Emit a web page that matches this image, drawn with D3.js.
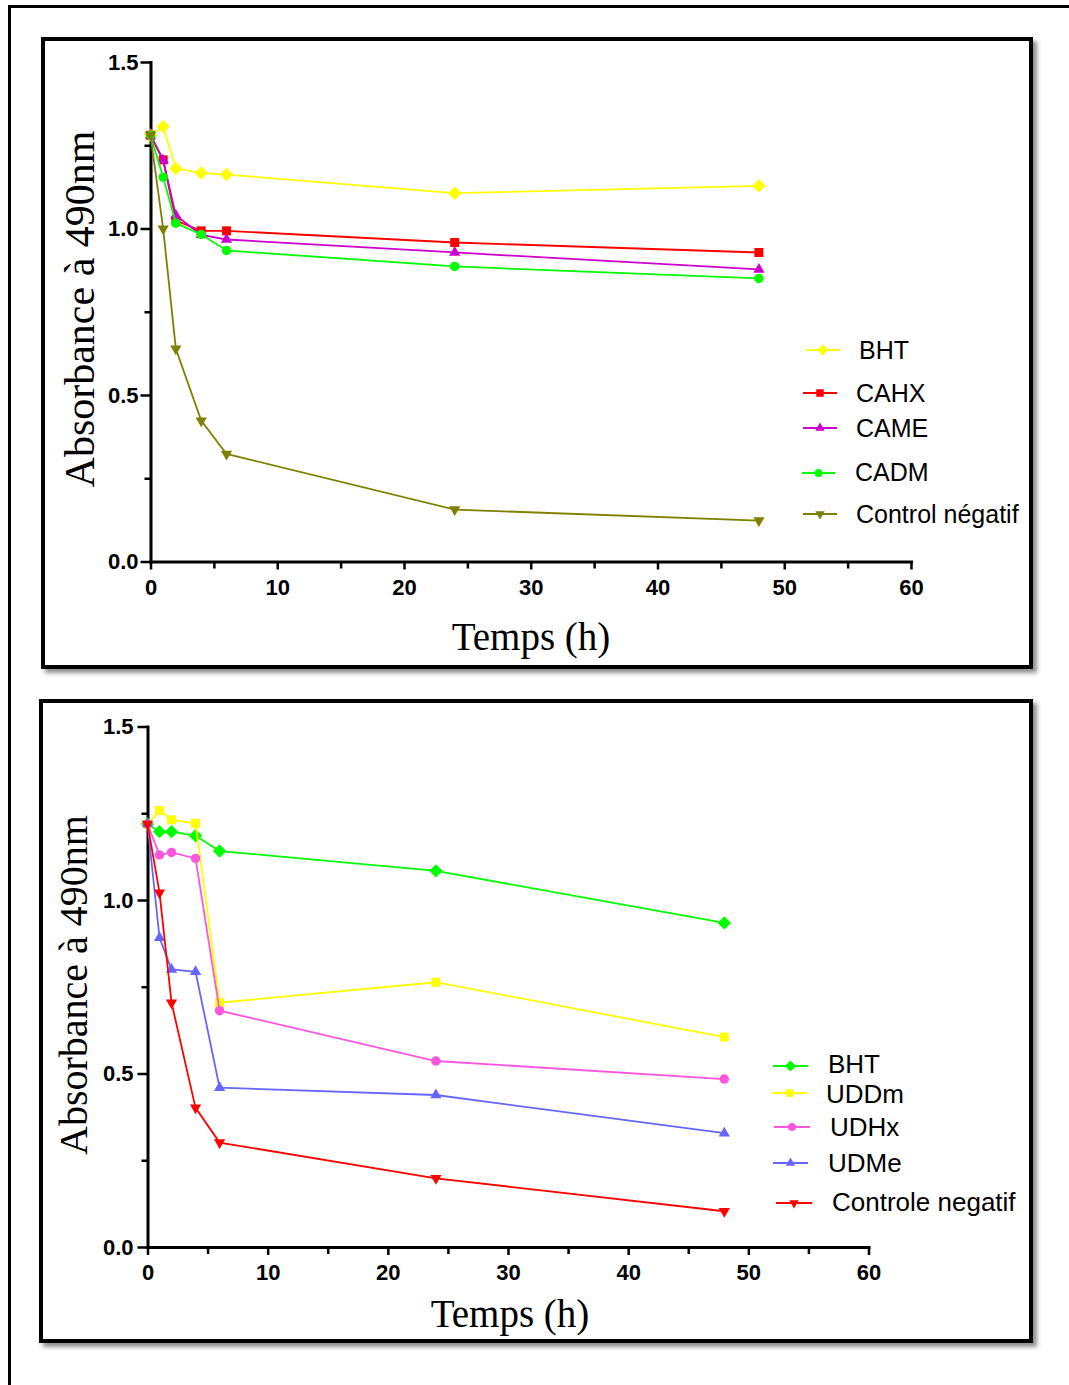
<!DOCTYPE html>
<html><head><meta charset="utf-8">
<script src="https://cdn.jsdelivr.net/npm/d3@7"></script>
<style>body{margin:0;background:#fff} svg{display:block}</style>
</head><body><svg id="c" width="1069" height="1385"></svg>
<script>
// ---- data ----
const times = [0, 1, 2, 4, 6, 24, 48];
const xTicks = [0, 10, 20, 30, 40, 50, 60];
const xMinorTicks = [5, 15, 25, 35, 45, 55];
const yTicks = [0, 0.5, 1.0, 1.5];
const yMinorTicks = [0.25, 0.75, 1.25];
const yTitle = "Absorbance à 490nm";
const xTitle = "Temps (h)";

// panel A
const namesA = ["BHT", "CAHX", "CAME", "CADM", "Control négatif"];
const bhtA     = [1.280, 1.306, 1.180, 1.167, 1.162, 1.106, 1.128];
const cahxA    = [1.280, 1.206, 1.024, 0.993, 0.993, 0.958, 0.928];
const cameA    = [1.280, 1.205, 1.039, 0.981, 0.967, 0.928, 0.877];
const cadmA    = [1.280, 1.154, 1.016, 0.982, 0.934, 0.886, 0.850];
const controlA = [1.280, 0.999, 0.639, 0.423, 0.323, 0.156, 0.123];

// panel B
const namesB = ["BHT", "UDDm", "UDHx", "UDMe", "Controle negatif"];
const bhtB     = [1.219, 1.197, 1.197, 1.185, 1.141, 1.084, 0.934];
const uddmB    = [1.219, 1.258, 1.231, 1.221, 0.704, 0.763, 0.605];
const udhxB    = [1.219, 1.130, 1.137, 1.120, 0.681, 0.536, 0.484];
const udmeB    = [1.219, 0.891, 0.800, 0.793, 0.459, 0.438, 0.328];
const controlB = [1.219, 1.021, 0.704, 0.401, 0.301, 0.198, 0.103];

// ---- symbols ----
const symDiamond = {draw(ctx, size){const r=Math.sqrt(size/2);ctx.moveTo(0,-r);ctx.lineTo(r,0);ctx.lineTo(0,r);ctx.lineTo(-r,0);ctx.closePath();}};
const symSquare = {draw(ctx, size){const s=Math.sqrt(size)/2;ctx.moveTo(-s,-s);ctx.lineTo(s,-s);ctx.lineTo(s,s);ctx.lineTo(-s,s);ctx.closePath();}};
const symTriUp = {draw(ctx, size){const s=Math.sqrt(size*4/Math.sqrt(3));const h=s*Math.sqrt(3)/2;ctx.moveTo(0,-h*2/3);ctx.lineTo(s/2,h/3);ctx.lineTo(-s/2,h/3);ctx.closePath();}};
const symTriDown = {draw(ctx, size){const s=Math.sqrt(size*4/Math.sqrt(3));const h=s*Math.sqrt(3)/2;ctx.moveTo(0,h*2/3);ctx.lineTo(s/2,-h/3);ctx.lineTo(-s/2,-h/3);ctx.closePath();}};
const symCircle = d3.symbolCircle;

const svg = d3.select("#c");
svg.append("rect").attr("width",1069).attr("height",1385).attr("fill","#fff");
const defs = svg.append("defs");
const f = defs.append("filter").attr("id","sh").attr("x","-5%").attr("y","-5%").attr("width","112%").attr("height","112%");
f.append("feDropShadow").attr("dx",4).attr("dy",4).attr("stdDeviation",2).attr("flood-color","#444").attr("flood-opacity",0.6);

// outer frame (only top and left visible)
svg.append("path").attr("d","M9.5,1385 V6.5 H1069").attr("fill","none").attr("stroke","#000").attr("stroke-width",3);

function panel(cfg){
  const g = svg.append("g");
  g.append("rect").attr("x",cfg.box[0]).attr("y",cfg.box[1]).attr("width",cfg.box[2]).attr("height",cfg.box[3])
    .attr("fill","#fff").attr("stroke","#000").attr("stroke-width",4).attr("filter","url(#sh)");
  const x = d3.scaleLinear().domain([0,60]).range([cfg.x0,cfg.x1]);
  const y = d3.scaleLinear().domain([0,1.5]).range([cfg.y0,cfg.y1]);

  // minor ticks
  g.append("g").attr("transform",`translate(0,${cfg.y0})`)
    .call(d3.axisBottom(x).tickValues(xMinorTicks).tickSize(7).tickFormat(""))
    .call(a=>a.select(".domain").remove())
    .call(a=>a.selectAll("line").attr("stroke-width",2.5));
  g.append("g").attr("transform",`translate(${cfg.x0},0)`)
    .call(d3.axisLeft(y).tickValues(yMinorTicks).tickSize(6).tickFormat(""))
    .call(a=>a.select(".domain").remove())
    .call(a=>a.selectAll("line").attr("stroke-width",2.5));

  const xa = g.append("g").attr("transform",`translate(0,${cfg.y0})`)
    .call(d3.axisBottom(x).tickValues(xTicks).tickSize(8).tickSizeOuter(0).tickPadding(cfg.xPad).tickFormat(d3.format("d")));
  const ya = g.append("g").attr("transform",`translate(${cfg.x0},0)`)
    .call(d3.axisLeft(y).tickValues(yTicks).tickSize(10).tickSizeOuter(0).tickPadding(cfg.yPad).tickFormat(d3.format(".1f")));
  [xa,ya].forEach(a=>{
    a.select(".domain").attr("stroke-width",3).attr("stroke-linecap","square");
    a.selectAll(".tick line").attr("stroke-width",2.5);
    a.selectAll("text").attr("font-family","'Liberation Sans', Arial, sans-serif").attr("font-weight","bold").attr("font-size",22).attr("fill","#000");
  });

  // titles
  g.append("text").attr("transform",`translate(${cfg.ytx},${cfg.yty}) rotate(-90)`)
    .attr("text-anchor","middle").attr("font-family","'Liberation Serif', 'Times New Roman', serif")
    .attr("font-size",cfg.ytSize).text(yTitle);
  g.append("text").attr("x",cfg.xtx).attr("y",cfg.xty)
    .attr("text-anchor","middle").attr("font-family","'Liberation Serif', 'Times New Roman', serif")
    .attr("font-size",39).text(xTitle);

  const line = d3.line().x((d,i)=>x(times[i])).y(d=>y(d));
  cfg.series.forEach(s=>{
    g.append("path").datum(s.values).attr("d",line).attr("fill","none").attr("stroke",s.color).attr("stroke-width",1.8);
    g.selectAll(null).data(s.values).enter().append("path")
      .attr("transform",(d,i)=>`translate(${x(times[i])},${y(d)})`)
      .attr("d",d3.symbol().type(s.sym).size(s.size)).attr("fill",s.color);
  });
  // legend
  cfg.series.forEach((s,i)=>{
    const L = cfg.legend[i];
    g.append("line").attr("x1",L[0]).attr("x2",L[1]).attr("y1",L[2]).attr("y2",L[2]).attr("stroke",s.color).attr("stroke-width",2);
    g.append("path").attr("transform",`translate(${(L[0]+L[1])/2},${L[2]})`)
      .attr("d",d3.symbol().type(s.sym).size(s.size*0.7)).attr("fill",s.color);
    g.append("text").attr("x",L[3]).attr("y",L[4]).attr("font-family","'Liberation Sans', Arial, sans-serif")
      .attr("font-size",cfg.legSize).attr("fill","#000").text(cfg.names[i]);
  });
}

panel({
  box:[43,39,988,628], x0:150.5, x1:911, y0:561.5, y1:62, xPad:10, yPad:2,
  ytx:94, yty:309, ytSize:42, xtx:531, xty:650, legSize:25,
  names:namesA,
  series:[
    {values:bhtA, color:"#FFFF00", sym:symDiamond, size:90},
    {values:cahxA, color:"#FF0000", sym:symSquare, size:81},
    {values:cameA, color:"#CC00CC", sym:symTriUp, size:55},
    {values:cadmA, color:"#00FF00", sym:symCircle, size:70},
    {values:controlA, color:"#808000", sym:symTriDown, size:55}
  ],
  legend:[[806,840,350,859,359],[803,837,393,856,402],[803,837,428,856,437],[802,835,473,855,481],[803,837,514,856,523]]
});

panel({
  box:[41,701,990,640], x0:147.5, x1:868.5, y0:1247, y1:726.5, xPad:9, yPad:4,
  ytx:87, yty:985, ytSize:40, xtx:510, xty:1327, legSize:26,
  names:namesB,
  series:[
    {values:bhtB, color:"#00FF00", sym:symDiamond, size:90},
    {values:uddmB, color:"#FFFF00", sym:symSquare, size:81},
    {values:udhxB, color:"#FF55DD", sym:symCircle, size:70},
    {values:udmeB, color:"#6666FF", sym:symTriUp, size:55},
    {values:controlB, color:"#FF0000", sym:symTriDown, size:55}
  ],
  legend:[[773,808,1066,828,1073],[772,807,1093,826,1103],[774,810,1127,830,1136],[773,808,1163,828,1172],[776,812,1203,832,1211]]
});
</script></body></html>
